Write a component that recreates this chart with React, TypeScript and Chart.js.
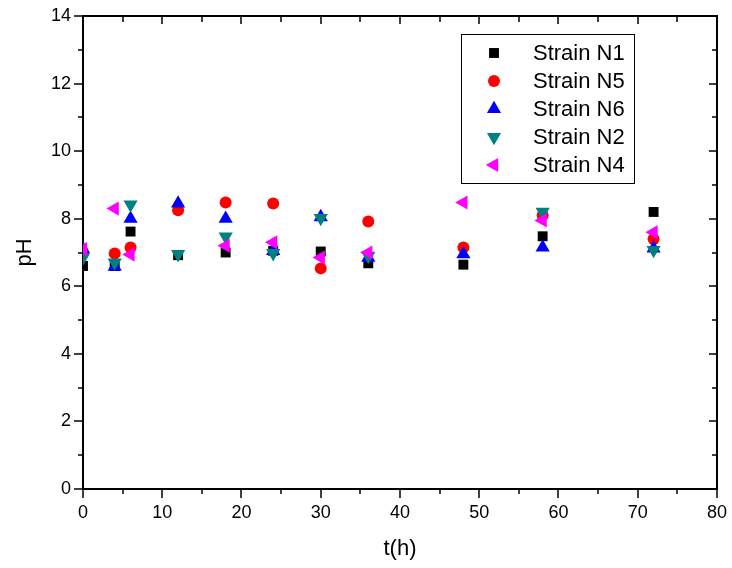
import React, { useEffect, useRef } from 'react';
import { Chart, registerables } from 'chart.js';
import { drawPoint } from 'chart.js/helpers';

Chart.register(...registerables);

const timeH = [0, 4, 6, 12, 18, 24, 30, 36, 48, 58, 72];
const strainN1 = [6.6, 6.6, 7.62, 6.92, 7.0, 7.05, 7.03, 6.68, 6.64, 7.48, 8.2];
const strainN5 = [7.0, 6.97, 7.15, 8.25, 8.48, 8.45, 6.53, 7.92, 7.15, 8.1, 7.4];
const strainN6 = [7.1, 6.58, 8.0, 8.45, 8.0, 7.05, 8.05, 6.85, 6.95, 7.15, 7.12];
const strainN2 = [6.85, 6.7, 8.42, 6.95, 7.47, 6.98, 8.02, 6.9, null, 8.2, 7.07];
const strainN4 = [7.1, 8.3, 6.94, null, 7.2, 7.3, 6.85, 7.0, 8.48, 7.95, 7.6];

const seriesLabels = ['Strain N1', 'Strain N5', 'Strain N6', 'Strain N2', 'Strain N4'];
const seriesValues = [strainN1, strainN5, strainN6, strainN2, strainN4];
const seriesColors = ['#000000', '#ff0000', '#0000ff', '#008080', '#ff00ff'];
const seriesStyles = ['rect', 'circle', 'triangle', 'triangle', 'triangle'];
const seriesRotations = [0, 0, 0, 180, -90];
const seriesRadius = [7, 6, 8.2, 8.2, 8.2];

const FONT = "'Liberation Sans', Arial, sans-serif";

const framePlugin = {
  id: 'framePlugin',
  beforeDatasetsDraw(chart: any) {
    const { ctx, chartArea, scales } = chart;
    const { left, right, top, bottom } = chartArea;
    const xs = scales.x;
    const ys = scales.y;
    ctx.save();
    ctx.strokeStyle = '#000';
    ctx.lineWidth = 1.5;
    const line = (x1: number, y1: number, x2: number, y2: number) => {
      ctx.beginPath();
      ctx.moveTo(x1, y1);
      ctx.lineTo(x2, y2);
      ctx.stroke();
    };
    for (let v = 0; v <= 80; v += 5) {
      const px = Math.round(xs.getPixelForValue(v));
      const major = v % 10 === 0;
      line(px, bottom, px, bottom + (major ? 9 : 5));
      line(px, top, px, top + (major ? 8 : 6));
    }
    for (let v = 0; v <= 14; v += 1) {
      const py = Math.round(ys.getPixelForValue(v));
      const major = v % 2 === 0;
      line(left, py, left - (major ? 9 : 5), py);
      line(right, py, right - (major ? 8 : 5), py);
    }
    ctx.lineWidth = 2;
    ctx.strokeRect(left, top, right - left, bottom - top);
    ctx.restore();
  },
};

const legendPlugin = {
  id: 'boxLegend',
  afterDraw(chart: any) {
    const { ctx } = chart;
    ctx.save();
    ctx.strokeStyle = '#000';
    ctx.lineWidth = 1;
    ctx.strokeRect(461.5, 34.5, 173, 149);
    ctx.font = `22px ${FONT}`;
    ctx.textBaseline = 'middle';
    ctx.textAlign = 'left';
    chart.data.datasets.forEach((ds: any, i: number) => {
      const cy = 53 + i * 28;
      ctx.fillStyle = ds.pointBackgroundColor;
      drawPoint(
        ctx,
        {
          pointStyle: ds.pointStyle,
          rotation: ds.pointRotation,
          radius: ds.pointRadius,
          borderWidth: 0,
        } as any,
        494,
        cy
      );
      ctx.fillStyle = '#000';
      ctx.fillText(ds.label, 533, cy + 1);
    });
    ctx.restore();
  },
};

export default function App() {
  const ref = useRef<HTMLCanvasElement | null>(null);

  useEffect(() => {
    if (!ref.current) return;
    const datasets = seriesLabels.map((label, k) => ({
      label,
      data: timeH
        .map((t, i) => ({ x: t, y: seriesValues[k][i] }))
        .filter((p) => p.y !== null && p.y !== undefined),
      showLine: false,
      pointStyle: seriesStyles[k],
      pointRotation: seriesRotations[k],
      pointRadius: seriesRadius[k],
      pointHoverRadius: seriesRadius[k],
      pointBackgroundColor: seriesColors[k],
      pointBorderColor: seriesColors[k],
      pointBorderWidth: 0,
      backgroundColor: seriesColors[k],
      borderColor: seriesColors[k],
      order: seriesLabels.length - k,
    }));

    const chart = new Chart(ref.current, {
      type: 'scatter',
      data: { datasets } as any,
      options: {
        responsive: false,
        animation: false,
        maintainAspectRatio: false,
        layout: { padding: { top: 16, right: 5, left: 0, bottom: 0 } },
        plugins: {
          legend: { display: false },
          tooltip: { enabled: false },
        },
        scales: {
          x: {
            type: 'linear',
            min: 0,
            max: 80,
            grid: { display: false },
            border: { display: false },
            ticks: {
              stepSize: 10,
              color: '#000',
              padding: 5,
              font: { family: FONT, size: 18 },
              maxRotation: 0,
            },
            title: {
              display: true,
              text: 't(h)',
              color: '#000',
              font: { family: FONT, size: 22 },
              padding: { top: 0, bottom: 6 },
            },
            afterFit: (scale: any) => {
              scale.height = 79;
            },
          },
          y: {
            type: 'linear',
            min: 0,
            max: 14,
            grid: { display: false },
            border: { display: false },
            ticks: {
              stepSize: 2,
              color: '#000',
              padding: 4,
              font: { family: FONT, size: 18 },
            },
            title: {
              display: true,
              text: 'pH',
              color: '#000',
              font: { family: FONT, size: 22 },
              padding: { top: 12, bottom: 0 },
            },
            afterFit: (scale: any) => {
              scale.width = 83;
            },
          },
        },
      },
      plugins: [framePlugin, legendPlugin],
    });
    return () => chart.destroy();
  }, []);

  return (
    <div style={{ position: 'fixed', left: 0, top: 0, width: 732, height: 568, background: '#fff' }}>
      <canvas ref={ref} width={732} height={568} />
    </div>
  );
}
